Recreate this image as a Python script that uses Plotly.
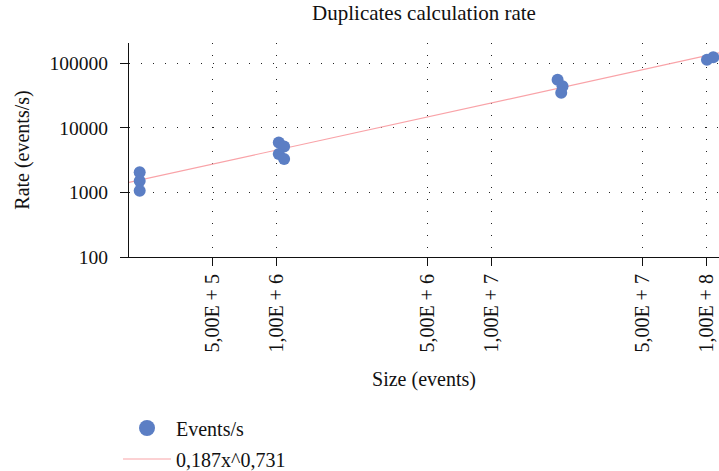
import numpy as np
import plotly.graph_objects as go

# ---- data ----
size_events = [2.3e5, 2.3e5, 2.3e5,
               1.02e6, 1.08e6, 1.02e6, 1.08e6,
               2.02e7, 2.13e7, 2.10e7,
               1.00e8, 1.07e8]
rate_events = [2050, 1500, 1060,
               5950, 5150, 3950, 3300,
               55500, 44000, 35000,
               114000, 124000]

fit_a = 0.187
fit_b = 0.731
fit_label = "0,187x^0,731"
series_label = "Events/s"

x_tick_vals = [5e5, 1e6, 5e6, 1e7, 5e7, 1e8]
x_tick_text = ["5,00E + 5", "1,00E + 6", "5,00E + 6", "1,00E + 7", "5,00E + 7", "1,00E + 8"]
y_tick_vals = [100, 1000, 10000, 100000]
y_tick_text = ["100", "1000", "10000", "100000"]

x_range_log = [5.312, 8.056]
y_range_log = [2.0, 5.315]

# ---- styling ----
FONT = "Liberation Serif"
MARKER_COLOR = "#5B7EC4"
LINE_COLOR = "#F9A3A8"
GRID = dict(showgrid=True, gridcolor="#222222", gridwidth=1, griddash="1px,11px")

fit_x = np.logspace(x_range_log[0], x_range_log[1], 60)
fit_y = fit_a * fit_x ** fit_b

fig = go.Figure()
fig.add_trace(go.Scatter(
    x=fit_x, y=fit_y, mode="lines", name=fit_label,
    line=dict(color=LINE_COLOR, width=1.2), showlegend=False,
))
fig.add_trace(go.Scatter(
    x=size_events, y=rate_events, mode="markers", name=series_label,
    marker=dict(color=MARKER_COLOR, size=12), showlegend=False,
))
# legend entries (bigger legend marker as in the reference)
fig.add_trace(go.Scatter(
    x=[None], y=[None], mode="markers", name=series_label,
    marker=dict(color=MARKER_COLOR, size=16), legendgroup="a",
))
fig.add_trace(go.Scatter(
    x=[None], y=[None], mode="lines", name=fit_label,
    line=dict(color=LINE_COLOR, width=1.2), legendgroup="b",
))

fig.update_layout(
    width=719, height=471,
    margin=dict(l=129, r=0, t=43, b=214, autoexpand=False),
    paper_bgcolor="white", plot_bgcolor="white",
    font=dict(family=FONT, size=20, color="#111111"),
    title=dict(text="Duplicates calculation rate", x=0.5, xref="paper",
               y=1 - 13 / 471, yref="container", yanchor="middle",
               font=dict(family=FONT, size=21, color="#111111")),
    showlegend=True,
    legend=dict(x=-0.0186, y=-0.708, xanchor="left", yanchor="top",
                traceorder="grouped", tracegroupgap=2, itemwidth=48,
                font=dict(family=FONT, size=20, color="#111111"),
                bgcolor="rgba(0,0,0,0)"),
)
fig.update_xaxes(
    type="log", range=x_range_log,
    tickmode="array", tickvals=x_tick_vals, ticktext=x_tick_text,
    tickangle=-90, tickfont=dict(family=FONT, size=20),
    ticks="outside", ticklen=8, tickcolor="#111111", tickwidth=1.2,
    showline=True, linecolor="#111111", linewidth=1.2,
    zeroline=False, automargin=False,
    title=dict(text="Size (events)", standoff=20, font=dict(family=FONT, size=20)),
    **GRID,
)
fig.update_yaxes(
    type="log", range=y_range_log,
    tickmode="array", tickvals=y_tick_vals, ticktext=y_tick_text,
    tickfont=dict(family=FONT, size=19.5), ticklabelstandoff=8,
    ticks="outside", ticklen=8, tickcolor="#111111", tickwidth=1.2,
    showline=True, linecolor="#111111", linewidth=1.2,
    zeroline=False, automargin=False,
    title=dict(text="Rate (events/s)", standoff=14, font=dict(family=FONT, size=20)),
    **GRID,
)

fig.write_html("out.html", config={"displayModeBar": False},
               post_script="document.body.style.margin='0px';document.body.style.overflow='hidden';")
